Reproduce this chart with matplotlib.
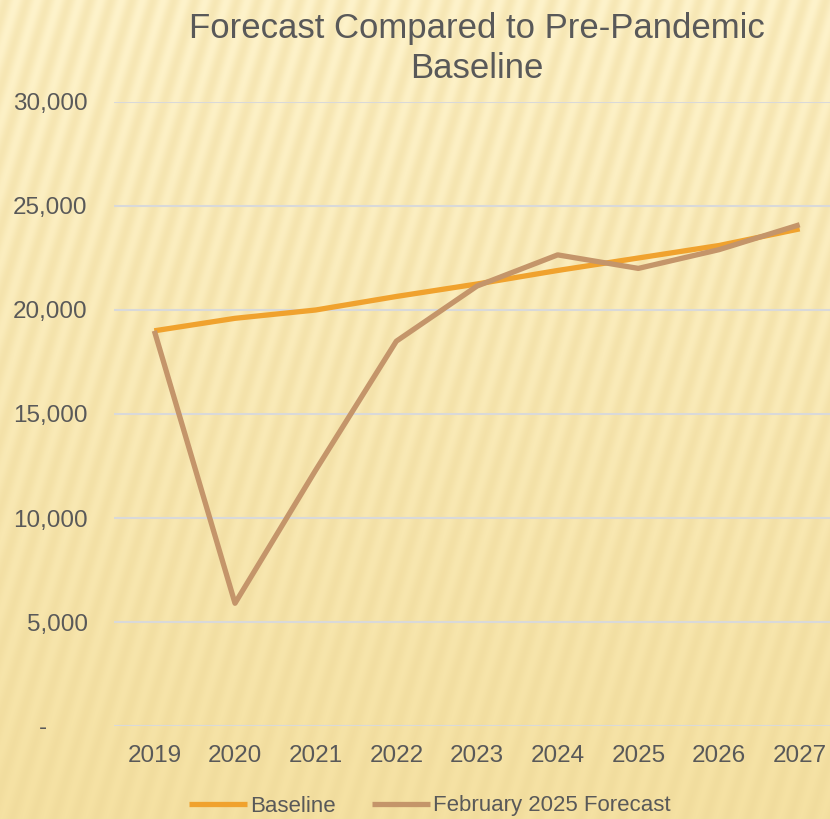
import numpy as np
import matplotlib
matplotlib.use("Agg")
import matplotlib.pyplot as plt
from matplotlib.ticker import FuncFormatter

# Data
years = ["2019", "2020", "2021", "2022", "2023", "2024", "2025", "2026", "2027"]
baseline = [19000, 19600, 20000, 20650, 21250, 21900, 22500, 23100, 23900]
forecast = [19000, 5900, 12300, 18500, 21150, 22650, 22000, 22900, 24100]

text_col = "#595959"
plt.rcParams["font.family"] = ["Liberation Sans", "DejaVu Sans"]

fig = plt.figure(figsize=(8.3, 8.19), dpi=100)

# striped pale-yellow backdrop
h, w = 819, 830
yy, xx = np.mgrid[0:h, 0:w]
t = yy / h
top = np.array([254, 243, 203]) / 255
bot = np.array([245, 225, 162]) / 255
base = top[None, None, :] * (1 - t[..., None]) + bot[None, None, :] * t[..., None]
stripe = 0.5 + 0.5 * np.sin(2 * np.pi * (xx + 0.3 * yy) / 21.0)
dark = np.array([236, 214, 150]) / 255
img = base * (1 - 0.4 * stripe[..., None]) + dark[None, None, :] * 0.4 * stripe[..., None]
bg = fig.add_axes([0, 0, 1, 1], zorder=-1)
bg.imshow(img, aspect="auto", interpolation="bilinear")
bg.axis("off")

# plot area runs slightly past the right edge, like the cropped original
ax = fig.add_axes([114 / 830, 93 / 819, 726 / 830, 624 / 819])
ax.set_facecolor("none")

x = np.arange(len(years))
ax.plot(x, baseline, color="#F0A22E", lw=3.8, label="Baseline", solid_capstyle="butt", zorder=3)
ax.plot(x, forecast, color="#C4956A", lw=3.8, label="February 2025 Forecast", solid_capstyle="butt", zorder=4)

ax.set_xlim(-0.5, len(years) - 0.5)
ax.set_ylim(0, 30000)
ax.set_yticks(range(0, 30001, 5000))
ax.yaxis.set_major_formatter(FuncFormatter(lambda v, p: "-" + " " * 6 if v == 0 else f"{int(v):,}"))
ax.set_xticks(x)
ax.set_xticklabels(years)
ax.grid(axis="y", color="#D9D9D9", lw=1.5)
ax.set_axisbelow(True)
for s in ax.spines.values():
    s.set_visible(False)
ax.tick_params(axis="both", length=0, colors=text_col, labelsize=17.5)
ax.tick_params(axis="y", pad=19)
ax.tick_params(axis="x", pad=14)

ax.set_title("Forecast Compared to Pre-Pandemic\nBaseline", color=text_col,
             fontsize=25, pad=17, linespacing=1.3)

fig.legend(loc="center", bbox_to_anchor=(430 / 830, 1 - 806 / 819), ncol=2,
           frameon=False, fontsize=16, labelcolor=text_col, handlelength=2.6,
           handletextpad=0.15, columnspacing=1.6)

fig.savefig("out.png", dpi=100)
